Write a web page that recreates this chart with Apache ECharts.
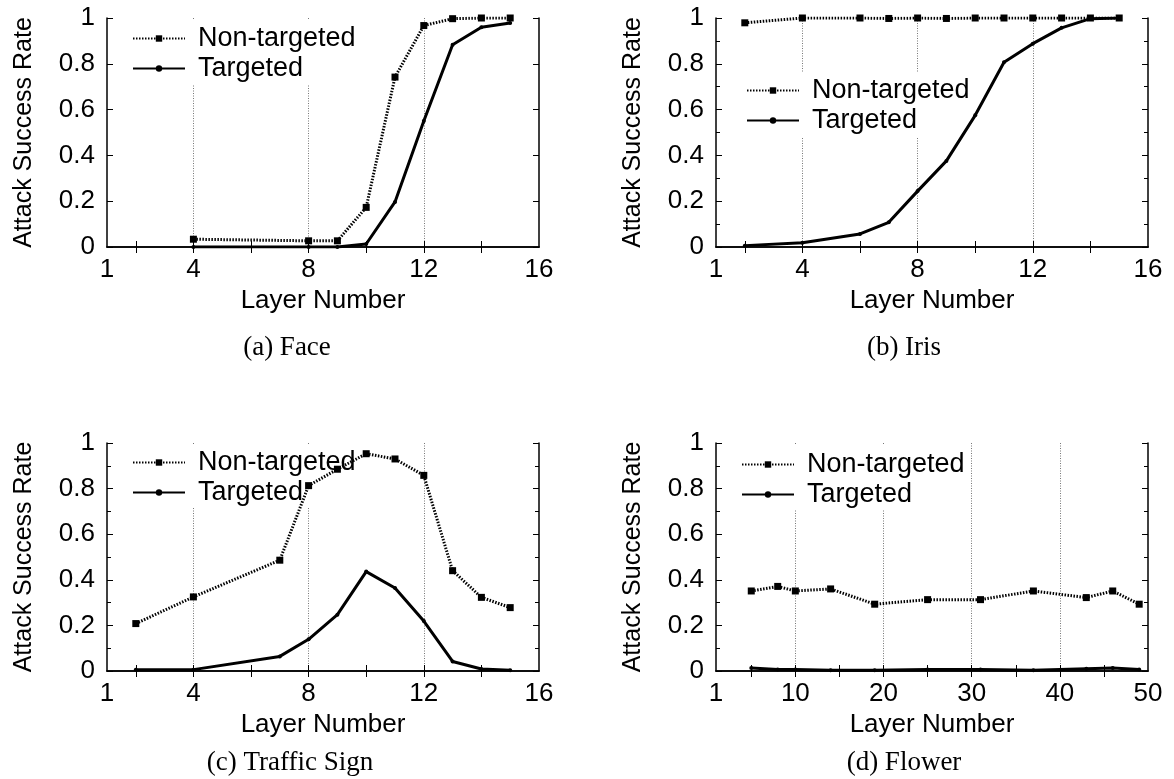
<!DOCTYPE html>
<html>
<head>
<meta charset="utf-8">
<script src="https://cdn.jsdelivr.net/npm/echarts@6/dist/echarts.min.js"></script>
<style>
html, body { margin: 0; padding: 0; background: #fff; }
#chart { width: 1174px; height: 779px; }
</style>
</head>
<body>
<div id="chart"></div>
<script>
// layer numbers and attack success rates
const faceLayers = [4, 8, 9, 10, 11, 12, 13, 14, 15]
const faceNonTargeted = [0.034, 0.027, 0.027, 0.173, 0.742, 0.967, 0.997, 1.0, 1.0]
const faceTargeted = [0.0, 0.0, 0.0, 0.013, 0.197, 0.55, 0.883, 0.96, 0.978]

const irisLayers = [2, 4, 6, 7, 8, 9, 10, 11, 12, 13, 14, 15]
const irisNonTargeted = [0.979, 1.0, 1.0, 0.998, 1.0, 0.998, 1.0, 1.0, 1.0, 1.0, 1.0, 1.0]
const irisTargeted = [0.006, 0.019, 0.057, 0.108, 0.244, 0.376, 0.575, 0.807, 0.888, 0.957, 0.997, 1.0]

const signLayers = [2, 4, 7, 8, 9, 10, 11, 12, 13, 14, 15]
const signNonTargeted = [0.208, 0.325, 0.486, 0.813, 0.885, 0.953, 0.93, 0.858, 0.44, 0.323, 0.278]
const signTargeted = [0.006, 0.006, 0.064, 0.139, 0.247, 0.436, 0.364, 0.219, 0.042, 0.009, 0.003]

const flowerLayers = [5, 8, 10, 14, 19, 25, 31, 37, 43, 46, 49]
const flowerNonTargeted = [0.351, 0.371, 0.351, 0.36, 0.293, 0.313, 0.313, 0.351, 0.322, 0.351, 0.293]
const flowerTargeted = [0.013, 0.007, 0.007, 0.003, 0.003, 0.007, 0.007, 0.003, 0.01, 0.013, 0.007]

// axis ticks / labels
const xLabels16 = [1, 4, 8, 12, 16]
const xTicks16 = [2, 4, 6, 8, 10, 12, 14]
const xGrid16 = [4, 8, 12]
const xLabels50 = [1, 10, 20, 30, 40, 50]
const xTicks50 = [5, 10, 15, 20, 25, 30, 35, 40, 45]
const xGrid50 = [10, 20, 30, 40]

const seriesNames = ['Non-targeted', 'Targeted']
const captions = ['(a) Face', '(b) Iris', '(c) Traffic Sign', '(d) Flower']

const SANS = '"Liberation Sans", Arial, Helvetica, sans-serif'
const SERIF = '"Liberation Serif", "Times New Roman", serif'

const panels = [
  { left: 107, top: 18, h: 229, xMax: 16, layers: faceLayers, nt: faceNonTargeted, t: faceTargeted,
    labels: xLabels16, ticks: xTicks16, grid: xGrid16, minor: false,
    legend: { left: 124, top: 19, padding: [6, 2, 3, 8] }, cap: [287, 348] },
  { left: 716, top: 18, h: 229, xMax: 16, layers: irisLayers, nt: irisNonTargeted, t: irisTargeted,
    labels: xLabels16, ticks: xTicks16, grid: xGrid16, minor: true,
    legend: { left: 738, top: 73, padding: [4, 2, 3, 8] }, cap: [904, 348] },
  { left: 107, top: 443, h: 228, xMax: 16, layers: signLayers, nt: signNonTargeted, t: signTargeted,
    labels: xLabels16, ticks: xTicks16, grid: xGrid16, minor: true,
    legend: { left: 124, top: 444, padding: [5, 2, 1, 8] }, cap: [290, 763] },
  { left: 716, top: 443, h: 228, xMax: 50, layers: flowerLayers, nt: flowerNonTargeted, t: flowerTargeted,
    labels: xLabels50, ticks: xTicks50, grid: xGrid50, minor: true,
    legend: { left: 733, top: 444, padding: [7, 2, 1, 8] }, cap: [904, 763] },
]

const zip = (xs, ys) => xs.map((x, i) => [x, ys[i]])
const border = { lineStyle: { color: '#000', width: 1.5 } }
const tick = { inside: true, length: 6, lineStyle: { color: '#000', width: 1 } }

const grid = []
const xAxis = []
const yAxis = []
const series = []
const legend = []

panels.forEach((p, i) => {
  grid.push({ left: p.left, top: p.top, width: 432, height: p.h })

  // bottom axis with labels
  xAxis.push({
    gridIndex: i, type: 'value', min: 1, max: p.xMax, position: 'bottom',
    name: 'Layer Number', nameLocation: 'middle', nameGap: 41,
    nameTextStyle: { fontSize: 26, fontFamily: SANS, color: '#000' },
    axisLine: border,
    axisTick: { ...tick, customValues: p.ticks },
    axisLabel: { customValues: p.labels, fontSize: 26, fontFamily: SANS, color: '#000', margin: 10 },
    splitLine: { show: false },
  })
  // mirrored ticks on top
  xAxis.push({
    gridIndex: i, type: 'value', min: 1, max: p.xMax, position: 'top',
    axisLine: border,
    axisTick: { ...tick, customValues: p.ticks },
    axisLabel: { show: false },
    splitLine: { show: false },
  })
  // dotted vertical grid lines only
  xAxis.push({
    gridIndex: i, type: 'value', min: 1, max: p.xMax, position: 'bottom',
    axisLine: { show: false },
    axisTick: { show: false, customValues: p.grid },
    axisLabel: { show: false },
    splitLine: { show: true, lineStyle: { color: '#777', width: 1, type: [1, 1.5] } },
  })

  const yBase = {
    gridIndex: i, type: 'value', min: 0, max: 1, interval: 0.2,
    axisLine: border,
    axisTick: tick,
    minorTick: { show: p.minor, splitNumber: 2, length: 4, lineStyle: { color: '#000' } },
    splitLine: { show: false },
  }
  yAxis.push({
    ...yBase, position: 'left',
    name: 'Attack Success Rate', nameLocation: 'middle', nameGap: 70,
    nameTextStyle: { fontSize: 25, fontFamily: SANS, color: '#000' },
    axisLabel: { fontSize: 26, fontFamily: SANS, color: '#000', margin: 12 },
  })
  yAxis.push({ ...yBase, position: 'right', axisLabel: { show: false } })

  series.push({
    name: seriesNames[0], type: 'line', xAxisIndex: i * 3, yAxisIndex: i * 2,
    data: zip(p.layers, p.nt),
    symbol: 'rect', symbolSize: 7,
    itemStyle: { color: '#000' },
    lineStyle: { color: '#000', width: 3, type: [1.5, 1.5] },
  })
  series.push({
    name: seriesNames[1], type: 'line', xAxisIndex: i * 3, yAxisIndex: i * 2,
    data: zip(p.layers, p.t),
    symbol: 'circle', symbolSize: 4,
    itemStyle: { color: '#000' },
    lineStyle: { color: '#000', width: 3 },
  })

  legend.push({
    data: seriesNames, orient: 'vertical',
    left: p.legend.left, top: p.legend.top, padding: p.legend.padding,
    itemWidth: 52, itemHeight: 8, itemGap: 3,
    backgroundColor: '#fff', z: 1, selectedMode: false,
    textStyle: { fontSize: 27, fontFamily: SANS, color: '#000', lineHeight: 27, padding: [0, 0, 0, 8] },
  })
})

const graphic = panels.map((p, i) => ({
  type: 'text', x: p.cap[0], y: p.cap[1],
  style: { text: captions[i], font: '27px ' + SERIF, fill: '#000', textAlign: 'center', textVerticalAlign: 'middle' },
}))

const chart = echarts.init(document.getElementById('chart'))
chart.setOption({ animation: false, grid, xAxis, yAxis, series, legend, graphic })
</script>
</body>
</html>
